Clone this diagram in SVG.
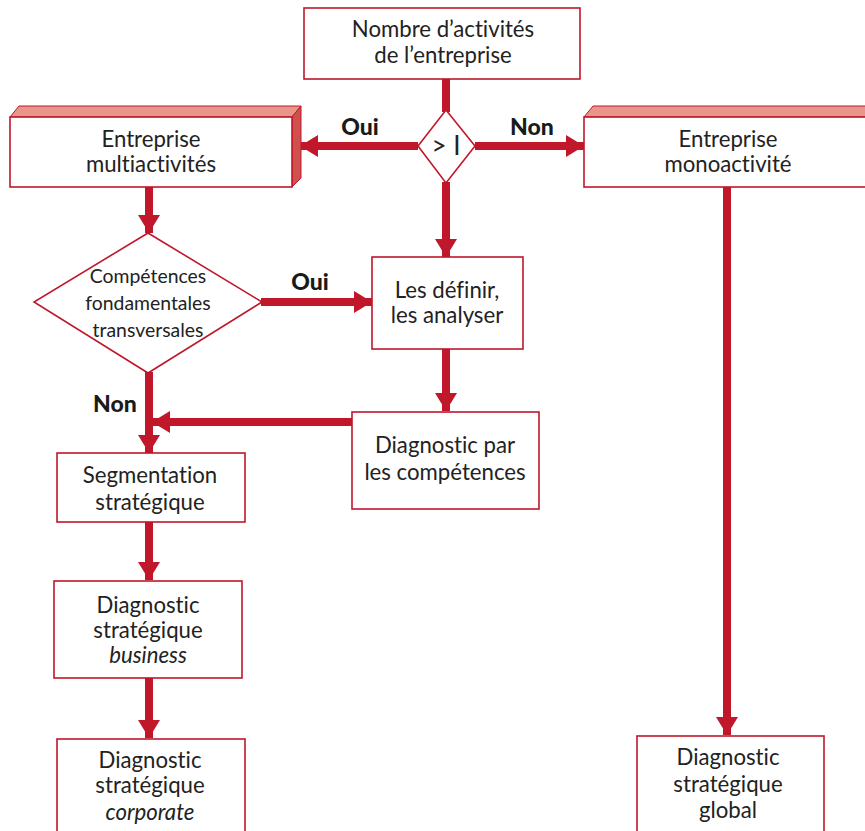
<svg xmlns="http://www.w3.org/2000/svg" width="865" height="831" viewBox="0 0 865 831">
<defs>
<style>
.box{fill:#fff;stroke:#c0172a;stroke-width:1.6}
.top3d{fill:#e8968a;stroke:#c0172a;stroke-width:1}
.side3d{fill:#d0504e;stroke:#c0172a;stroke-width:1}
.t{font-family:Lato,"Open Sans","Liberation Sans",sans-serif;font-size:22.2px;fill:#222;text-anchor:middle;font-variant-ligatures:none}
.ts{font-size:19.4px}
.big{font-size:26px}
.lbl{font-family:Lato,"Liberation Sans",sans-serif;font-size:23px;font-weight:900;fill:#1a1a1a;text-anchor:middle}
.con{stroke:#c0172a;stroke-width:8;fill:none;marker-end:url(#ah)}
.plain{stroke:#c0172a;stroke-width:8;fill:none}
</style>
<marker id="ah" markerUnits="userSpaceOnUse" markerWidth="20" markerHeight="24" refX="18" refY="11" orient="auto" viewBox="0 0 20 24">
<path d="M0,0 L18,11 L0,22 Z" fill="#c0172a"/>
</marker>
</defs>
<rect width="865" height="831" fill="#fff"/>

<g id="connectors">
<line class="plain" x1="446" y1="79" x2="446" y2="112"/>
<line class="con" x1="418" y1="146" x2="300" y2="146"/>
<line class="con" x1="475" y1="146" x2="584" y2="146"/>
<line class="con" x1="446" y1="182" x2="446" y2="257"/>
<line class="con" x1="149" y1="187" x2="149" y2="233"/>
<line class="con" x1="261" y1="302" x2="372" y2="302"/>
<line class="con" x1="446" y1="349" x2="446" y2="411"/>
<line class="con" x1="352" y1="422" x2="152" y2="422"/>
<line class="con" x1="149" y1="372" x2="149" y2="453"/>
<line class="con" x1="149" y1="522" x2="149" y2="580"/>
<line class="con" x1="149" y1="678" x2="149" y2="738"/>
<line class="con" x1="727" y1="187" x2="727" y2="735"/>
<text class="lbl" x="360" y="135">Oui</text>
<text class="lbl" x="532" y="135">Non</text>
<text class="lbl" x="310" y="290">Oui</text>
<text class="lbl" x="115" y="412">Non</text>
</g>

<g id="n-nombre">
<rect class="box" x="304" y="8" width="276" height="71"/>
<text class="t" x="443" y="37">Nombre d’activités</text>
<text class="t" x="443" y="63">de l’entreprise</text>
</g>

<g id="n-test">
<polygon class="box" points="446,110 475,146 446,183 418,146"/>
<text class="t big" x="446" y="155">&gt; I</text>
</g>

<g id="n-multi">
<polygon class="top3d" points="10,117 19,106 301,106 292,117"/>
<polygon class="side3d" points="292,117 301,106 301,178 292,187"/>
<rect class="box" x="10" y="117" width="282" height="70"/>
<text class="t" x="151" y="147">Entreprise</text>
<text class="t" x="151" y="172">multiactivités</text>
</g>

<g id="n-mono">
<polygon class="top3d" points="584,117 593,106 875,106 866,117"/>
<rect class="box" x="584" y="117" width="290" height="70"/>
<text class="t" x="728" y="147">Entreprise</text>
<text class="t" x="728" y="172">monoactivité</text>
</g>

<g id="n-competences">
<polygon class="box" points="148,233 262,302 148,373 34,302"/>
<text class="t ts" x="148" y="283">Compétences</text>
<text class="t ts" x="148" y="310">fondamentales</text>
<text class="t ts" x="148" y="337">transversales</text>
</g>

<g id="n-definir">
<rect class="box" x="372" y="257" width="151" height="92"/>
<text class="t" x="447" y="298">Les définir,</text>
<text class="t" x="447" y="323">les analyser</text>
</g>

<g id="n-diagpar">
<rect class="box" x="352" y="412" width="187" height="97"/>
<text class="t" x="445" y="453">Diagnostic par</text>
<text class="t" x="445" y="480">les compétences</text>
</g>

<g id="n-segmentation">
<rect class="box" x="57" y="453" width="188" height="69"/>
<text class="t" x="150" y="483">Segmentation</text>
<text class="t" x="150" y="510">stratégique</text>
</g>

<g id="n-business">
<rect class="box" x="54" y="581" width="188" height="97"/>
<text class="t" x="148" y="613">Diagnostic</text>
<text class="t" x="148" y="638">stratégique</text>
<text class="t" x="148" y="663" font-style="italic">business</text>
</g>

<g id="n-corporate">
<rect class="box" x="57" y="739" width="188" height="100"/>
<text class="t" x="150" y="768">Diagnostic</text>
<text class="t" x="150" y="793">stratégique</text>
<text class="t" x="150" y="820" font-style="italic">corporate</text>
</g>

<g id="n-global">
<rect class="box" x="637" y="736" width="187" height="100"/>
<text class="t" x="728" y="765">Diagnostic</text>
<text class="t" x="728" y="792">stratégique</text>
<text class="t" x="728" y="818">global</text>
</g>
</svg>
